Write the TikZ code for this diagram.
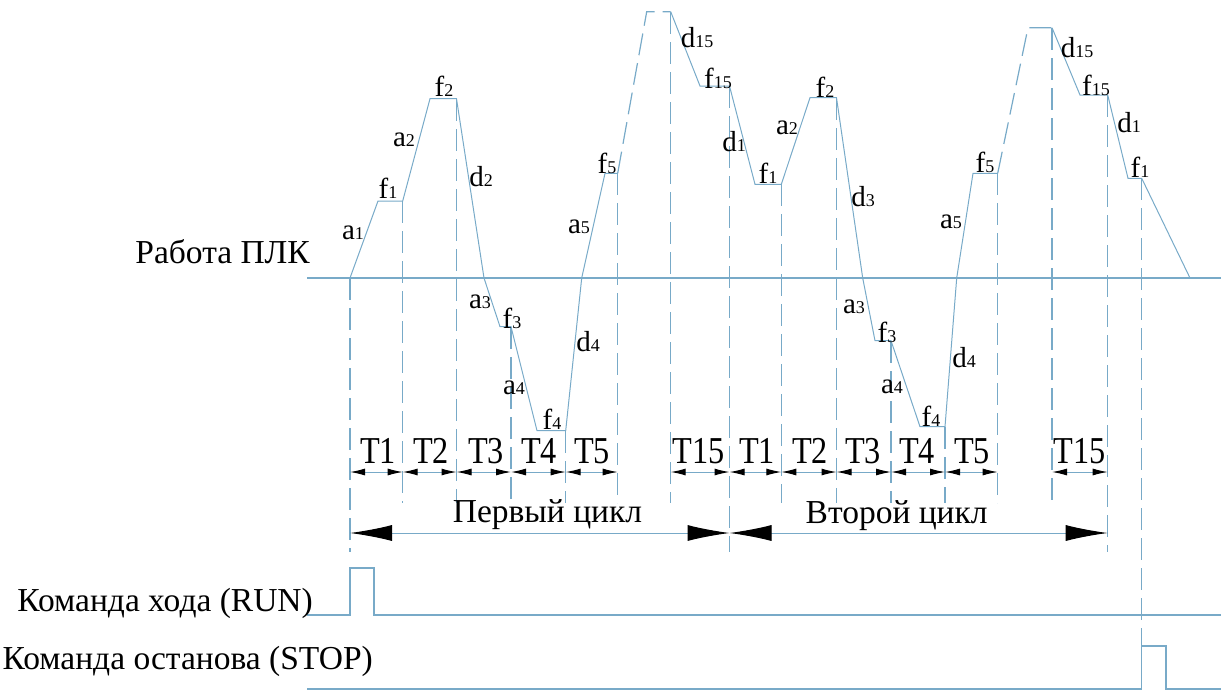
\documentclass[tikz,border=0pt]{standalone}
\usepackage{fontspec}
\setmainfont{Liberation Serif}
\usepackage{tikz}
\definecolor{plcblau}{RGB}{120,170,200}
\usetikzlibrary{arrows.meta}
\newcommand{\idx}[2]{#1{\fontsize{18}{18}\selectfont #2}}

\begin{document}
\begin{tikzpicture}[x=1pt, y=-1pt,
				linie/.style={plcblau, line width=1pt},
				achse/.style={plcblau, line width=1.4pt},
				strich/.style={plcblau, line width=1.2pt, dash pattern=on 22pt off 8pt},
				sig/.style={inner sep=0pt, font=\fontsize{29}{29}\selectfont},
				zeit/.style={inner sep=0pt, anchor=base, xscale=0.85, font=\fontsize{38}{38}\selectfont},
				beschr/.style={inner sep=0pt, font=\fontsize{33.5}{33.5}\selectfont},
				kurz/.style={linie, {Latex[black,length=15pt,width=7pt]}-{Latex[black,length=15pt,width=7pt]}},
				lang/.style={linie, {Latex[black,length=42pt,width=16pt]}-{Latex[black,length=42pt,width=16pt]}}]
				\useasboundingbox (0,0) rectangle (1221,691);
				%Signallinien zeichnen
				\draw[achse] (307,278) -- (1221,278);
				\draw[achse] (307,615) -- (350,615) -- (350,568) -- (374,568) -- (374,615) -- (1221,615);
				\draw[achse] (307,689) -- (1141.7,689) -- (1141.7,646) -- (1166,646) -- (1166,689) -- (1221,689);
				% Hilfslinien
				\foreach \x/\o/\u in {350/278/552, 402.7/201/503, 456.5/99/503, 511/327/503, 565.7/431/503, 617.7/173/503, 670.7/12/503, 729.5/86/552,
					781.3/184/503, 836.5/98/503, 891/341/503, 945/427/503, 997.7/173/503, 1052/28/503, 1107.7/95/552, 1141.7/178/646}
					\draw[strich] (\x,\o) -- (\x,\u);
				% Verlauf zeichnen
				\draw[linie] (350,278) -- (378,201) -- (402.7,201) -- (430,98.7) -- (456.5,98.7) -- (484,278) -- (500,326.7) -- (511,326.7)
					-- (537,430.7) -- (565.7,430.7) -- (581.7,278) -- (605,173.3) -- (617.7,173.3);
				\draw[strich] (617.7,173.3) -- (646.7,11.7) -- (670.7,11.7);
				\draw[linie] (670.7,11.7) -- (700,86) -- (729.5,86) -- (755,184.3) -- (781.3,184.3) -- (810,97.7) -- (836.5,97.7) -- (862.7,278)
					-- (875,340.7) -- (891,340.7) -- (920,426.7) -- (945,426.7) -- (956.7,278) -- (973,173.3) -- (997.7,173.3);
				\draw[strich] (997.7,173.3) -- (1028,27.7) -- (1052,27.7);
				\draw[linie] (1052,27.7) -- (1080,95) -- (1107.7,95) -- (1128,178.3) -- (1141.7,178.3) -- (1190,278);
				%Beschriftung Verlauf
				\foreach \buch/\nr/\x/\y [count=\k] in {a/1/353/233, f/1/388/188, a/2/404/140, f/2/444/86, d/2/481/177, a/3/480/302, f/3/512/318,
					a/4/514/388, f/4/552/419, d/4/588/342, a/5/579/227, f/5/607/163, d/15/697/38, f/15/718/78, d/1/734/142,
					f/1/768/173, a/2/787/128, f/2/825/87, d/3/863/197, a/3/854/307, f/3/887/332, a/4/892/387, f/4/931/416,
					d/4/964/358, a/5/951/222, f/5/985/162, d/15/1077/48, f/15/1096/85, d/1/1129/123, f/1/1140/167}
					\node[sig] (s\k) at (\x,\y) {\idx{\buch}{\nr}};
				% Zeitabschnitte
				\foreach \a/\b in {350/402.7, 402.7/456.5, 456.5/511, 511/565.7, 565.7/617.7, 670.7/729.5,
					729.5/781.3, 781.3/836.5, 836.5/891, 891/945, 945/997.7, 1052/1107.7}
					\draw[kurz] (\a,472) -- (\b,472);
				\foreach \t/\x [count=\k] in {T1/378, T2/431, T3/486, T4/539, T5/592, T15/699, T1/757, T2/810, T3/863, T4/917, T5/972, T15/1080}
					\node[zeit] (t\k) at (\x,463) {\t};
				% Zyklen
				\coordinate (z0) at (350,533);
				\coordinate (z1) at (729.5,533);
				\coordinate (z2) at (1107.7,533);
				\draw[lang] (z0) -- (z1);
				\draw[lang] (z1) -- (z2);
				\node[beschr, anchor=base] (zyk1) at (547.5,522) {Первый цикл};
				\node[beschr, anchor=base] (zyk2) at (896.7,523) {Второй цикл};
				%Beschriftung links
				\node[beschr, anchor=base east] (plc) at (310,263) {Работа ПЛК};
				\node[beschr, anchor=base east] (run) at (313,611) {Команда хода (RUN)};
				\node[beschr, anchor=base east] (stop) at (373,669) {Команда останова (STOP)};
			\end{tikzpicture}
\end{document}
